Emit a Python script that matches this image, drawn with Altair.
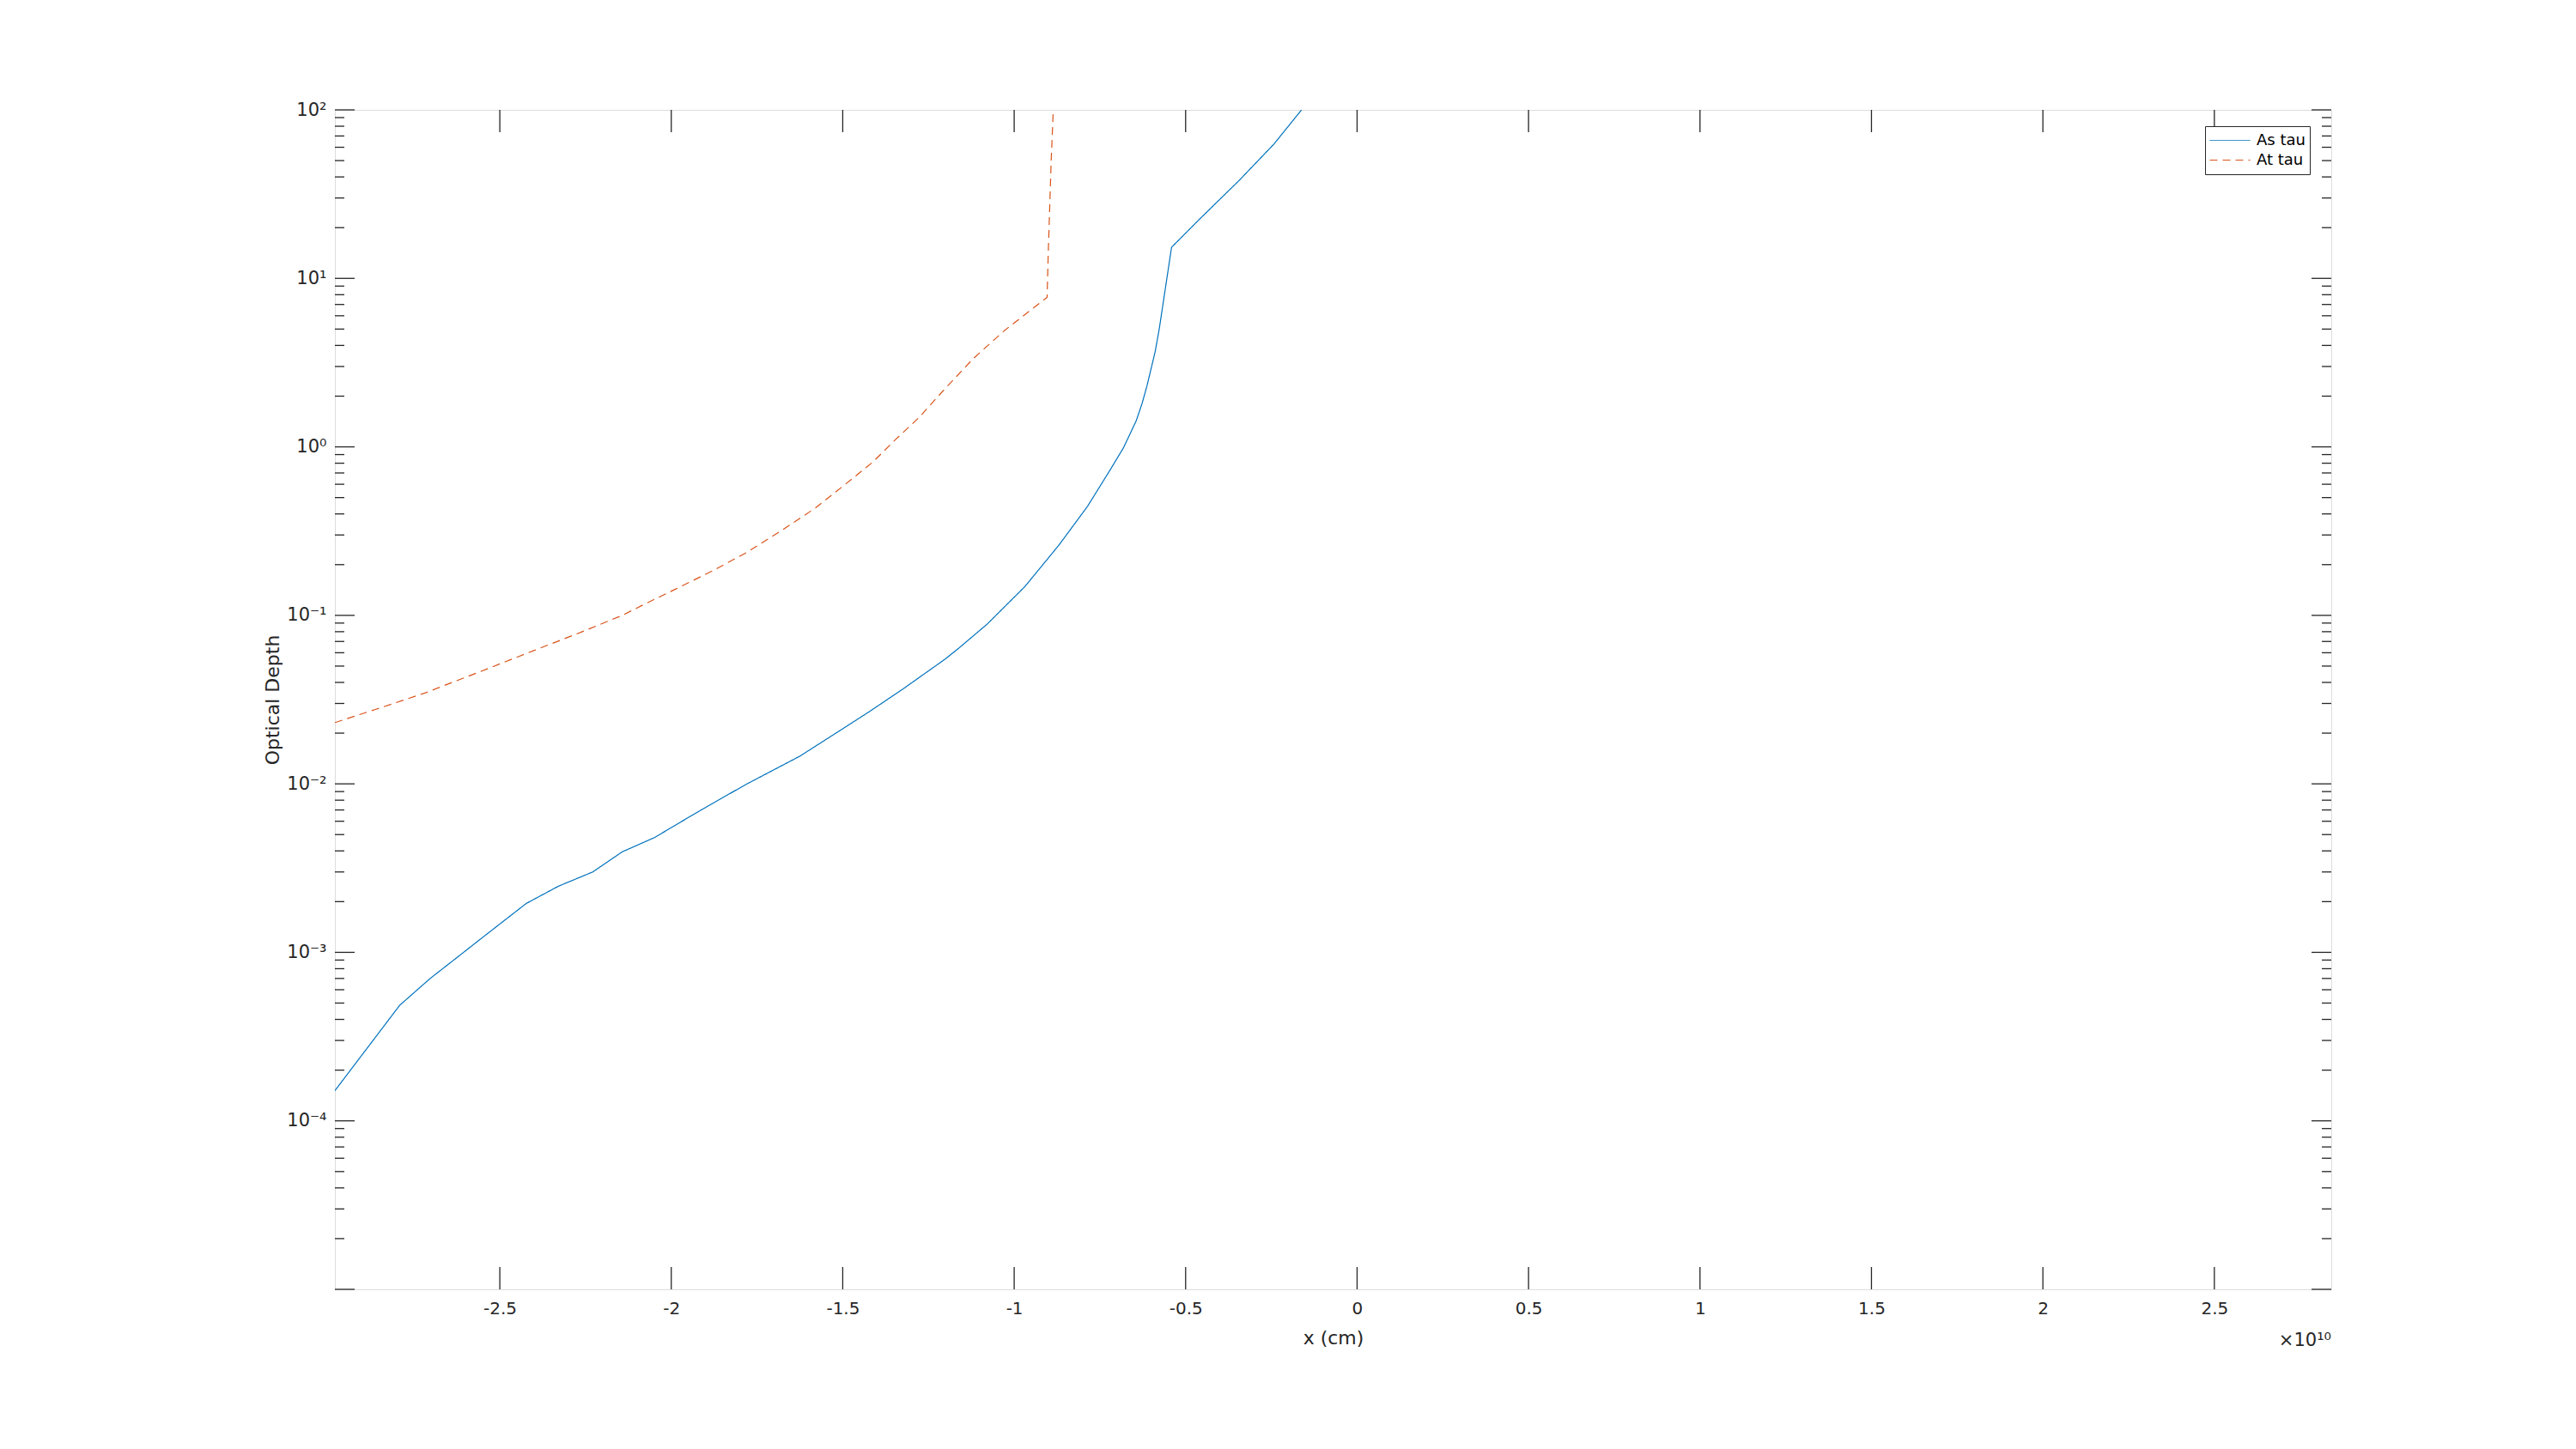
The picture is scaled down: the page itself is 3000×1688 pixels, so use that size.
import altair as alt
import pandas as pd

# ---- data (x in units of 1e10 cm) ----
as_x = [-2.981, -2.792, -2.703, -2.624, -2.545, -2.423, -2.329, -2.229, -2.143, -2.049,
        -1.913, -1.783, -1.625, -1.510, -1.424, -1.324, -1.203, -1.161, -1.078, -0.969,
        -0.869, -0.786, -0.719, -0.681, -0.644, -0.627, -0.613, -0.589, -0.577, -0.541,
        -0.460, -0.343, -0.243, -0.162]
as_tau = [1.51e-4, 4.85e-4, 7.0e-4, 9.35e-4, 1.25e-3, 1.95e-3, 2.47e-3, 3.0e-3, 3.95e-3, 4.8e-3,
          7.0e-3, 9.9e-3, 1.46e-2, 2.06e-2, 2.67e-2, 3.66e-2, 5.47e-2, 6.4e-2, 8.9e-2, 0.148,
          0.262, 0.444, 0.736, 0.99, 1.43, 1.81, 2.29, 3.66, 5.0, 15.3,
          22.4, 38.3, 62.5, 100.0]

at_x = [-2.981, -2.861, -2.717, -2.559, -2.401, -2.258, -2.143, -2.080, -1.988, -1.879,
        -1.779, -1.679, -1.579, -1.495, -1.412, -1.345, -1.278, -1.203, -1.120, -1.028,
        -0.953, -0.904, -0.901, -0.892, -0.886]
at_tau = [0.0231, 0.0277, 0.0347, 0.0462, 0.0618, 0.0802, 0.100, 0.116, 0.143, 0.184,
          0.237, 0.318, 0.435, 0.594, 0.813, 1.11, 1.49, 2.20, 3.33, 4.91,
          6.46, 7.71, 13.3, 50.4, 100.0]

series_names = ["As tau", "At tau"]
series_colors = ["#0072BD", "#D95319"]
series_dashes = [[1, 0], [9, 6]]

x_tick_values = [-2.5, -2.0, -1.5, -1.0, -0.5, 0.0, 0.5, 1.0, 1.5, 2.0, 2.5]
y_major_ticks = [1e-5, 1e-4, 1e-3, 1e-2, 1e-1, 1e0, 1e1, 1e2]
y_label_values = [1e2, 1e1, 1e0, 1e-1, 1e-2, 1e-3, 1e-4]
y_label_text = ["10²", "10¹", "10⁰", "10⁻¹", "10⁻²", "10⁻³", "10⁻⁴"]
y_minor_ticks = [m * 10.0 ** k for k in range(-5, 2) for m in range(2, 10)]

X_DOMAIN = [-2.981, 2.841]
Y_DOMAIN = [1e-5, 1e2]

W, H = 2325, 1374
AX = "#262626"
FONT = "DejaVu Sans"

df = pd.concat([
    pd.DataFrame({"x": as_x, "tau": as_tau, "series": series_names[0]}),
    pd.DataFrame({"x": at_x, "tau": at_tau, "series": series_names[1]}),
], ignore_index=True)

xscale = alt.Scale(domain=X_DOMAIN, nice=False, zero=False)
yscale = alt.Scale(type="log", domain=Y_DOMAIN, nice=False)

ylabel_expr = " : ".join(
    f"datum.value > {v / 2} ? '{t}'" for v, t in zip(y_label_values, y_label_text)
) + " : ''"

xaxis = alt.Axis(
    values=x_tick_values, labelExpr="'' + datum.value", title="x (cm)",
    ticks=False, tickSize=0, domain=False, grid=False,
    labelFontSize=20, labelFont=FONT, labelColor=AX, labelPadding=12,
    labelFlush=False, labelOverlap=False,
    titleFontSize=22, titleFont=FONT, titleFontWeight="normal", titleColor=AX,
    titleX=W / 2, titleY=56, titleBaseline="middle", titleAlign="center")
yaxis = alt.Axis(
    values=y_label_values, labelExpr=ylabel_expr, title="Optical Depth",
    ticks=False, tickSize=0, domain=False, grid=False,
    labelFontSize=21, labelFont=FONT, labelColor=AX, labelPadding=10,
    labelFlush=False, labelOverlap=False,
    titleFontSize=22, titleFont=FONT, titleFontWeight="normal", titleColor=AX,
    titleAngle=-90, titleX=-73, titleY=H / 2, titleBaseline="middle", titleAlign="center")

legend = alt.Legend(
    orient="none", legendX=2178, legendY=19, title=None,
    symbolType="stroke", symbolSize=2209, symbolStrokeWidth=1,
    labelFontSize=18, labelFont=FONT, labelColor="black", labelOffset=7,
    strokeColor=AX, fillColor="white", padding=5, clipHeight=23, rowPadding=0,
    cornerRadius=0,
)

lines = alt.Chart(df).mark_line(strokeWidth=1.2, clip=True).encode(
    x=alt.X("x:Q", scale=xscale, axis=xaxis),
    y=alt.Y("tau:Q", scale=yscale, axis=yaxis),
    color=alt.Color("series:N", scale=alt.Scale(domain=series_names, range=series_colors), legend=legend),
    strokeDash=alt.StrokeDash("series:N", scale=alt.Scale(domain=series_names, range=series_dashes), legend=legend),
)

rule = dict(color=AX, strokeWidth=1.3)
ymaj = pd.DataFrame({"tau": y_major_ticks})
ymin = pd.DataFrame({"tau": y_minor_ticks})
xt = pd.DataFrame({"x": x_tick_values})

layers = [
    alt.Chart(ymaj).mark_rule(**rule).encode(y=alt.Y("tau:Q", scale=yscale, axis=yaxis), x=alt.value(0), x2=alt.value(23)),
    alt.Chart(ymaj).mark_rule(**rule).encode(y=alt.Y("tau:Q", scale=yscale, axis=yaxis), x=alt.value(W - 23), x2=alt.value(W)),
    alt.Chart(ymin).mark_rule(**rule).encode(y=alt.Y("tau:Q", scale=yscale, axis=yaxis), x=alt.value(0), x2=alt.value(11)),
    alt.Chart(ymin).mark_rule(**rule).encode(y=alt.Y("tau:Q", scale=yscale, axis=yaxis), x=alt.value(W - 11), x2=alt.value(W)),
    alt.Chart(xt).mark_rule(**rule).encode(x=alt.X("x:Q", scale=xscale, axis=xaxis), y=alt.value(0), y2=alt.value(26)),
    alt.Chart(xt).mark_rule(**rule).encode(x=alt.X("x:Q", scale=xscale, axis=xaxis), y=alt.value(H - 26), y2=alt.value(H)),
]

mult = alt.Chart(pd.DataFrame({"t": ["×10¹⁰"]})).mark_text(
    align="right", baseline="middle", fontSize=21, font=FONT, color=AX
).encode(x=alt.value(W), y=alt.value(H + 60), text="t:N")

chart = alt.layer(lines, *layers, mult).properties(
    width=W, height=H,
    autosize=alt.AutoSizeParams(type="none"),
    padding={"left": 382, "top": 120, "right": 250, "bottom": 150},
).configure_view(stroke=AX, strokeWidth=1.5).configure(background="white")

chart.save("out.html", embed_options={"renderer": "svg", "actions": False})
